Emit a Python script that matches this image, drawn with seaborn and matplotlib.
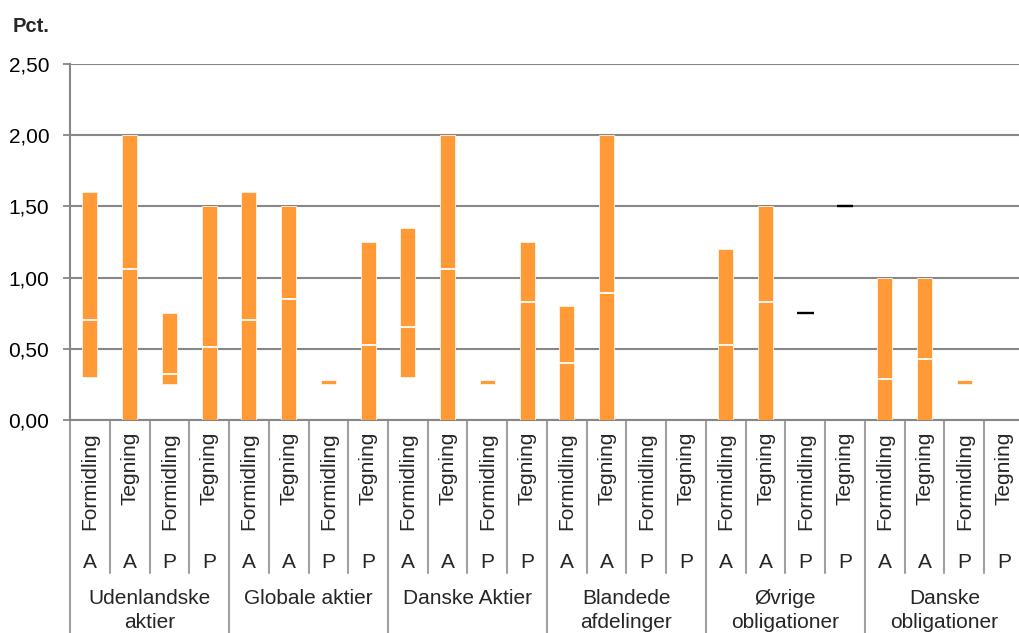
import numpy as np
import pandas as pd
import matplotlib
matplotlib.use("Agg")
import matplotlib.pyplot as plt
import seaborn as sns
from matplotlib.lines import Line2D
from matplotlib.ticker import FuncFormatter

# ── Data ──────────────────────────────────────────────────────────────────────
groups = ["Udenlandske\naktier", "Globale aktier", "Danske Aktier",
          "Blandede\nafdelinger", "Øvrige\nobligationer", "Danske\nobligationer"]
cost_type = ["Formidling", "Tegning"] * 12
share_class = ["A", "A", "P", "P"] * 6

nan = np.nan
low = [0.30, 0.00, 0.25, 0.00,   0.00, 0.00, 0.25, 0.00,
       0.30, 0.00, 0.25, 0.00,   0.00, 0.00, nan, nan,
       0.00, 0.00, 0.75, 1.50,   0.00, 0.00, 0.25, nan]
mid = [0.70, 1.06, 0.32, 0.51,   0.70, 0.85, 0.28, 0.53,
       0.65, 1.06, 0.28, 0.83,   0.40, 0.89, nan, nan,
       0.53, 0.83, 0.75, 1.50,   0.29, 0.43, 0.28, nan]
high = [1.60, 2.00, 0.75, 1.50,  1.60, 1.50, 0.29, 1.25,
        1.35, 2.00, 0.29, 1.25,  0.80, 2.00, nan, nan,
        1.20, 1.50, 0.75, 1.50,  1.00, 1.00, 0.29, nan]
y_ticks = [0.0, 0.5, 1.0, 1.5, 2.0, 2.5]

ORANGE = "#FF9A36"
GREY = "#878787"
SEP = "#A0A0A0"

df = pd.DataFrame({
    "group": [groups[i // 4] for i in range(24)],
    "cost": cost_type,
    "share": share_class,
    "low": low, "mid": mid, "high": high,
})
df["key"] = df["group"] + "|" + df["cost"] + "|" + df["share"]
df["span"] = (df["high"] - df["low"]).fillna(0)

# ── Style ─────────────────────────────────────────────────────────────────────
sns.set_style("white")
plt.rcParams["font.family"] = ["Liberation Sans", "DejaVu Sans"]

fig = plt.figure(figsize=(10.19, 6.33), dpi=100)
H = 356.0  # axes height in px
ax = fig.add_axes([70 / 1019, 1 - 420 / 633, 954 / 1019, H / 633])


def fy(ypix):
    # pixel row -> axes fraction
    return (420 - ypix) / H


# floating bars: draw span with seaborn, then lift each bar to its low value
sns.barplot(data=df, x="key", y="span", order=list(df["key"]), color=ORANGE,
            saturation=1, width=0.38, edgecolor="#FFF3E6", linewidth=0.6,
            ax=ax, zorder=3)
for patch, lo, sp in zip(list(ax.patches), df["low"], df["span"]):
    if sp <= 0:
        patch.remove()
    else:
        patch.set_y(lo)

xs = np.arange(len(df))
rng = (df["span"] > 0).values
ax.hlines(df["mid"][rng], xs[rng] - 0.19, xs[rng] + 0.19, color="white",
          lw=1.3, zorder=4)
single = ((df["span"] == 0) & df["mid"].notna()).values
ax.hlines(df["mid"][single], xs[single] - 0.21, xs[single] + 0.21,
          color="black", lw=1.7, zorder=4)

# ── Axes ──────────────────────────────────────────────────────────────────────
ax.set_ylim(0, 2.5)
ax.set_xlim(-0.5, 23.5)
ax.set_yticks(y_ticks)
ax.yaxis.set_major_formatter(FuncFormatter(lambda v, _: f"{v:.2f}".replace(".", ",")))
ax.yaxis.grid(True, color=GREY, lw=1.5, zorder=0)
ax.set_axisbelow(True)
ax.tick_params(axis="y", which="major", left=True, length=5, width=1.3,
               color=GREY, labelsize=15, pad=10, labelcolor="black")
ax.set_xticks([])
ax.set_xlabel("")
ax.set_ylabel("")
for s in ["top", "right"]:
    ax.spines[s].set_visible(False)
for s in ["left", "bottom"]:
    ax.spines[s].set_color(GREY)
    ax.spines[s].set_linewidth(1.5)

fig.text(13 / 1019, 1 - 26 / 633, "Pct.", fontsize=14.5, fontweight="bold",
         ha="left", va="center")

# ── Multi-level category labels ──────────────────────────────────────────────
tr = ax.get_xaxis_transform()
for i in range(24):
    ax.text(i, fy(432), df["cost"][i], rotation=90, ha="center", va="top",
            fontsize=15, transform=tr, clip_on=False)
    ax.text(i, fy(562), df["share"][i], ha="center", va="center",
            fontsize=15, transform=tr, clip_on=False)
for g in range(6):
    ax.text(g * 4 + 1.5, fy(589), groups[g], ha="center", va="top",
            fontsize=15, transform=tr, clip_on=False, linespacing=1.3)

for b in range(24):
    x = b - 0.5
    bottom = fy(650) if b % 4 == 0 else fy(573)
    ax.add_line(Line2D([x, x], [0, bottom], transform=tr, color=SEP, lw=1.5,
                       clip_on=False, zorder=1))

fig.savefig("out.png", dpi=100)
